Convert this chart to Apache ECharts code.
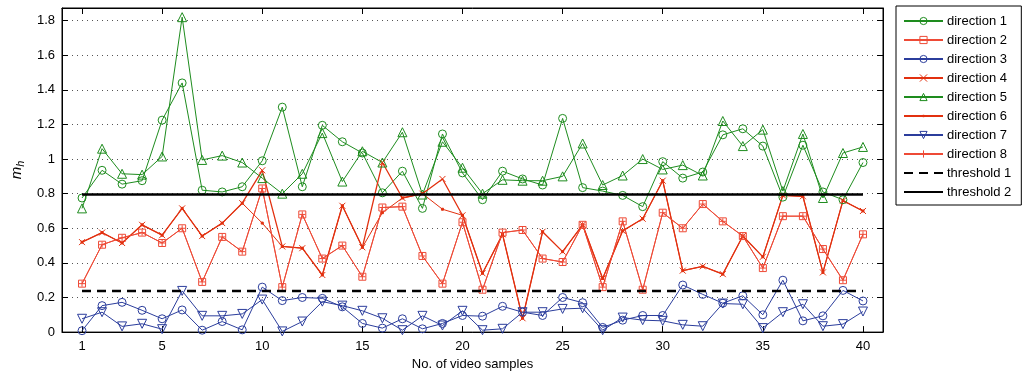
<!DOCTYPE html>
<html>
<head>
<meta charset="utf-8">
<script src="https://cdn.jsdelivr.net/npm/echarts@6/dist/echarts.min.js"></script>
<style>
html,body{margin:0;padding:0;background:#fff;}
#chart{width:1027px;height:376px;}
</style>
</head>
<body>
<div id="chart"></div>
<script>
// ---- data ----
const samples = [1,2,3,4,5,6,7,8,9,10,11,12,13,14,15,16,17,18,19,20,21,22,23,24,25,26,27,28,29,30,31,32,33,34,35,36,37,38,39,40];
const xTickValues = [1,5,10,15,20,25,30,35,40];
const yTickValues = [0,0.2,0.4,0.6,0.8,1,1.2,1.4,1.6,1.8];

const direction1 = [0.775,0.935,0.855,0.875,1.225,1.44,0.82,0.81,0.84,0.99,1.30,0.84,1.195,1.10,1.035,0.805,0.93,0.715,1.145,0.92,0.765,0.93,0.885,0.85,1.235,0.835,0.815,0.79,0.725,0.985,0.89,0.925,1.14,1.175,1.075,0.78,1.08,0.81,0.765,0.98];
const direction5 = [0.715,1.06,0.915,0.91,1.015,1.82,0.995,1.02,0.98,0.89,0.80,0.915,1.15,0.87,1.045,0.98,1.155,0.795,1.10,0.95,0.80,0.88,0.875,0.875,0.90,1.09,0.85,0.905,1.0,0.94,0.965,0.905,1.22,1.075,1.17,0.815,1.145,0.775,1.035,1.07];
const direction2 = [0.28,0.505,0.545,0.575,0.515,0.60,0.29,0.55,0.465,0.83,0.26,0.68,0.425,0.50,0.32,0.72,0.725,0.44,0.28,0.635,0.245,0.575,0.59,0.425,0.405,0.62,0.26,0.64,0.245,0.69,0.60,0.74,0.64,0.555,0.37,0.67,0.67,0.48,0.30,0.565];
const direction8 = [0.28,0.505,0.545,0.575,0.515,0.60,0.29,0.55,0.465,0.83,0.26,0.68,0.425,0.50,0.32,0.72,0.725,0.44,0.28,0.635,0.245,0.575,0.59,0.425,0.405,0.62,0.26,0.64,0.245,0.69,0.60,0.74,0.64,0.555,0.37,0.67,0.67,0.48,0.30,0.565];
const direction4 = [0.52,0.575,0.515,0.62,0.56,0.715,0.555,0.63,0.745,0.935,0.495,0.485,0.33,0.73,0.49,0.98,0.775,0.80,0.885,0.675,0.34,0.565,0.08,0.58,0.465,0.62,0.31,0.585,0.655,0.875,0.355,0.38,0.335,0.555,0.435,0.79,0.785,0.345,0.76,0.70];
const direction6 = [0.52,0.575,0.515,0.62,0.56,0.715,0.555,0.63,0.745,0.63,0.495,0.485,0.33,0.73,0.49,0.69,0.775,0.80,0.71,0.675,0.34,0.565,0.08,0.58,0.465,0.62,0.31,0.585,0.655,0.875,0.355,0.38,0.335,0.555,0.435,0.79,0.785,0.345,0.76,0.70];
const direction3 = [0.008,0.153,0.172,0.126,0.077,0.128,0.011,0.061,0.013,0.26,0.182,0.20,0.195,0.146,0.05,0.023,0.077,0.019,0.05,0.096,0.092,0.149,0.115,0.096,0.20,0.17,0.027,0.069,0.096,0.096,0.272,0.218,0.167,0.21,0.10,0.30,0.065,0.094,0.241,0.18];
const direction7 = [0.077,0.115,0.033,0.048,0.017,0.238,0.094,0.094,0.105,0.188,0.004,0.061,0.176,0.153,0.123,0.08,0.011,0.094,0.038,0.123,0.011,0.019,0.115,0.115,0.134,0.138,0.011,0.084,0.069,0.065,0.042,0.034,0.165,0.161,0.023,0.115,0.161,0.034,0.046,0.119];
const threshold1 = 0.238;
const threshold2 = 0.795;

// ---- styles ----
const GREEN = '#1e8c1e';
const RED_A = '#ee4a36';
const RED_B = '#e2300f';
const BLUE = '#2b3d9c';
const FONT = 'Liberation Sans, Arial, sans-serif';
const CLEAR = 'rgba(0,0,0,0)';

const xSym = 'path://M0,0L10,10M10,0L0,10';
const plusSym = 'path://M5,0L5,10M0,5L10,5';
const dotSym = 'path://M0,0M10,10M4,4L6,4L6,6L4,6Z';

function pairs(arr){ return samples.map((s,i)=>[s,arr[i]]); }

const legendItems = [];
function mkSeries(name, arr, color, symbol, size, opts){
  opts = opts || {};
  const fill = opts.fill || CLEAR;
  legendItems.push({name: name, itemStyle: {color: fill, borderColor: color, borderWidth: 1}});
  return {
    name: name,
    type: 'line',
    data: pairs(arr),
    symbol: symbol,
    symbolSize: size,
    symbolRotate: opts.rotate || 0,
    showAllSymbol: true,
    lineStyle: {color: color, width: opts.width || 1},
    itemStyle: {color: fill, borderColor: color, borderWidth: 1},
    emphasis: {disabled: true},
    z: 2
  };
}

const series = [
  mkSeries('direction 1', direction1, GREEN, 'circle', 8),
  mkSeries('direction 2', direction2, RED_A, 'rect', 7),
  mkSeries('direction 3', direction3, BLUE, 'circle', 8),
  mkSeries('direction 4', direction4, RED_B, xSym, 6, {width: 1.3}),
  mkSeries('direction 5', direction5, GREEN, 'triangle', 9),
  mkSeries('direction 6', direction6, RED_B, dotSym, 10, {fill: RED_B}),
  mkSeries('direction 7', direction7, BLUE, 'triangle', 9, {rotate: 180}),
  mkSeries('direction 8', direction8, RED_A, plusSym, 6),
  {
    name: 'threshold 1', type: 'line', data: [[samples[0], threshold1],[samples[samples.length-1], threshold1]],
    symbol: 'none', lineStyle: {color: '#000', width: 2.5, type: [9,6]}, itemStyle:{color:'#000'},
    emphasis: {disabled: true}, z: 3
  },
  {
    name: 'threshold 2', type: 'line', data: [[samples[0], threshold2],[samples[samples.length-1], threshold2]],
    symbol: 'none', lineStyle: {color: '#000', width: 2.5}, itemStyle:{color:'#000'},
    emphasis: {disabled: true}, z: 3
  }
];
legendItems.push({name: 'threshold 1', itemStyle: {opacity: 0}});
legendItems.push({name: 'threshold 2', itemStyle: {opacity: 0}});

const chart = echarts.init(document.getElementById('chart'), null, {renderer: 'canvas'});
chart.setOption({
  animation: false,
  backgroundColor: '#fff',
  textStyle: {fontFamily: FONT},
  grid: {left: 62, top: 8, width: 821, height: 326, show: true, borderColor: '#000', borderWidth: 1, backgroundColor: CLEAR},
  legend: {
    orient: 'vertical', left: 896, top: 6,
    padding: [8, 10, 6, 7],
    borderColor: '#000', borderWidth: 1,
    itemWidth: 39, itemHeight: 9, itemGap: 5,
    textStyle: {fontSize: 13, lineHeight: 14, color: '#000', fontFamily: FONT, padding: [0,0,0,-1]},
    data: legendItems
  },
  xAxis: [{
    type: 'value', min: 0, max: 41,
    name: 'No. of video samples', nameLocation: 'middle', nameGap: 25,
    nameTextStyle: {fontSize: 13, color: '#000', fontFamily: FONT},
    axisLine: {show: true, onZero: false, lineStyle: {color: '#000', width: 1}},
    axisTick: {show: true, inside: true, length: 6, customValues: xTickValues, lineStyle: {color: '#000'}},
    axisLabel: {fontSize: 13, color: '#000', margin: 8, customValues: xTickValues, fontFamily: FONT},
    splitLine: {show: false}
  },{
    type: 'value', min: 0, max: 41, position: 'top',
    axisLine: {show: true, onZero: false, lineStyle: {color: '#000', width: 1}},
    axisTick: {show: true, inside: true, length: 6, customValues: xTickValues, lineStyle: {color: '#000'}},
    axisLabel: {show: false},
    splitLine: {show: false}
  }],
  yAxis: [{
    type: 'value', min: 0, max: 1.873, interval: 0.2,
    name: '{m|m}{h|h}', nameLocation: 'middle', nameGap: 24, nameRotate: 90,
    nameTextStyle: {
      color: '#000',
      rich: {
        m: {fontSize: 15, fontStyle: 'italic', fontFamily: FONT, color: '#000'},
        h: {fontSize: 11, fontStyle: 'italic', fontFamily: FONT, color: '#000', padding: [8,0,0,0]}
      }
    },
    axisLine: {show: true, onZero: false, lineStyle: {color: '#000', width: 1}},
    axisTick: {show: true, inside: true, length: 6, customValues: yTickValues, lineStyle: {color: '#000'}},
    axisLabel: {fontSize: 13, color: '#000', margin: 7, customValues: yTickValues, fontFamily: FONT},
    splitLine: {show: true, lineStyle: {color: '#555', width: 1, type: [1,4]}}
  },{
    type: 'value', min: 0, max: 1.873, interval: 0.2, position: 'right',
    axisLine: {show: true, onZero: false, lineStyle: {color: '#000', width: 1}},
    axisTick: {show: true, inside: true, length: 6, customValues: yTickValues, lineStyle: {color: '#000'}},
    axisLabel: {show: false},
    splitLine: {show: false}
  }],
  series: series
});
</script>
</body>
</html>
